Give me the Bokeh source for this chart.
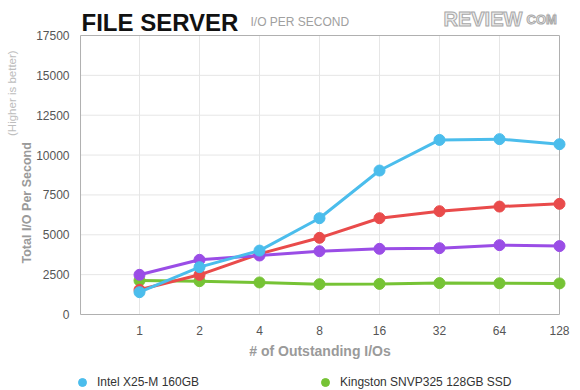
from bokeh.plotting import figure
from bokeh.models import Range1d, FixedTicker, Legend, LegendItem, Title, Label
from bokeh.core.properties import value
from bokeh.embed import file_html
from bokeh.resources import INLINE

# ---- data ----
x_labels = ["1", "2", "4", "8", "16", "32", "64", "128"]
y_ticks = [0, 2500, 5000, 7500, 10000, 12500, 15000, 17500]
intel = [1400, 2970, 4010, 6040, 9030, 10950, 11000, 10680]
series_red = [1550, 2490, 3800, 4810, 6040, 6480, 6770, 6940]
series_purple = [2490, 3430, 3700, 3970, 4120, 4160, 4350, 4290]
kingston = [2130, 2090, 2010, 1900, 1920, 1970, 1960, 1950]
legend_names = ["Intel X25-M 160GB", "Kingston SNVP325 128GB SSD"]
title_text = "FILE SERVER"
subtitle_text = "I/O PER SECOND"
logo_text = ["REVIEW", "COM"]
y_title = "Total I/O Per Second"
y_note = "(Higher is better)"
x_title = "# of Outstanding I/Os"

FONT = "Liberation Sans"
W, H = 580, 390
F_L = 78                    # frame left (y axis sits left of it); frame fills the rest
X0_PX, X_STEP = 139, 60.0   # pixel of first category, pixels per category
Y0_PX = 314                 # pixel of value 0

xs = list(range(len(x_labels)))
x_left = -0.983
x_right = xs[-1]
y_top = y_ticks[-1]
px_y = y_top / 279.0


def dx(px):
    return (px - X0_PX) / X_STEP


def dy(py):
    return (Y0_PX - py) * px_y


p = figure(width=W, height=H, output_backend="svg", toolbar_location=None,
           x_range=Range1d(dx(F_L), dx(W)),
           y_range=Range1d(dy(H), dy(0)),
           x_axis_location=None,
           min_border_left=F_L, min_border_right=0,
           min_border_top=0, min_border_bottom=0)
p.outline_line_color = None
p.background_fill_color = "white"
p.border_fill_color = "white"
p.xgrid.visible = False
p.ygrid.visible = False

# y axis (real axis in the left panel)
p.yaxis.ticker = FixedTicker(ticks=y_ticks)
ax = p.yaxis[0]
ax.axis_line_color = None
ax.major_tick_line_color = None
ax.minor_tick_line_color = None
ax.major_tick_out = 0
ax.major_tick_in = 0
ax.minor_tick_out = 0
ax.minor_tick_in = 0
ax.major_label_text_font = FONT
ax.major_label_text_font_size = "12px"
ax.major_label_text_color = "#555555"
ax.major_label_standoff = 9

# y-axis title pieces (rotated, in the left panel)
p.add_layout(Title(text=y_title, align="left", offset=H - 263, standoff=0,
                   text_font=FONT, text_font_size="12.5px", text_font_style="bold",
                   text_color="#9a9a9a"), "left")
p.add_layout(Title(text=y_note, align="left", offset=H - 135.5, standoff=0,
                   text_font=FONT, text_font_size="11.5px", text_font_style="normal",
                   text_color="#bdbdbd"), "left")

# grid + plot border
grid_col = "#e6e6e6"
p.segment(x0=xs[:-1], y0=[0] * (len(xs) - 1), x1=xs[:-1], y1=[y_top] * (len(xs) - 1),
          line_color=grid_col, line_width=1)
inner = y_ticks[1:-1]
p.segment(x0=[x_left] * len(inner), y0=inner, x1=[x_right] * len(inner), y1=inner,
          line_color=grid_col, line_width=1)
p.segment(x0=[x_left, x_left, x_right, x_left], y0=[0, 0, 0, y_top],
          x1=[x_left, x_right, x_right, x_right], y1=[y_top, 0, y_top, y_top],
          line_color="#b0b0b0", line_width=1)

# x category labels and x title
p.text(x=xs, y=[dy(330)] * len(xs), text=x_labels, text_font=value(FONT),
       text_font_size="12px", text_color="#555555",
       text_align="center", text_baseline="middle")
p.text(x=[dx(319.5)], y=[dy(350)], text=[x_title], text_font=value(FONT),
       text_font_size="14px", text_font_style="bold", text_color="#9a9a9a",
       text_align="center", text_baseline="middle")

series = [
    (kingston, "#76c335"),
    (series_red, "#e94b4b"),
    (series_purple, "#9a4de6"),
    (intel, "#4bbdec"),
]
dots = {}
for vals, col in series:
    p.line(xs, vals, line_color=col, line_width=3)
    dots[col] = p.scatter(xs, vals, size=11, fill_color=col, line_color=col)

# series legend at the bottom
leg = Legend(items=[LegendItem(label=legend_names[0], renderers=[dots["#4bbdec"]]),
                    LegendItem(label=legend_names[1], renderers=[dots["#76c335"]])],
             location=(-6, -2), orientation="horizontal", padding=0, margin=0, spacing=116,
             border_line_alpha=0, background_fill_alpha=0,
             label_text_font=FONT, label_text_font_size="12px",
             label_text_color="#333333", glyph_width=20, glyph_height=20,
             label_standoff=5, label_height=20)
p.add_layout(leg)

# heading
p.add_layout(Label(x=dx(81), y=dy(22), text=title_text, text_font=FONT,
                   text_font_size="24px", text_font_style="bold", text_color="#111111",
                   text_baseline="alphabetic"))
p.add_layout(Label(x=dx(250), y=dy(21), text=subtitle_text, text_font=FONT,
                   text_font_size="12px", text_color="#a0a0a0", text_baseline="alphabetic"))
p.add_layout(Label(x=dx(443), y=dy(18.5), text=logo_text[0], text_font=FONT,
                   text_font_size="20px", text_font_style="bold", text_color="#eeeeee",
                   text_outline_color="#a8a8a8", text_baseline="alphabetic"))
p.add_layout(Label(x=dx(526), y=dy(18.5), text=logo_text[1], text_font=FONT,
                   text_font_size="13px", text_font_style="bold", text_color="#eeeeee",
                   text_outline_color="#a8a8a8", text_baseline="alphabetic"))

open("out.html", "w").write(file_html(p, INLINE))
